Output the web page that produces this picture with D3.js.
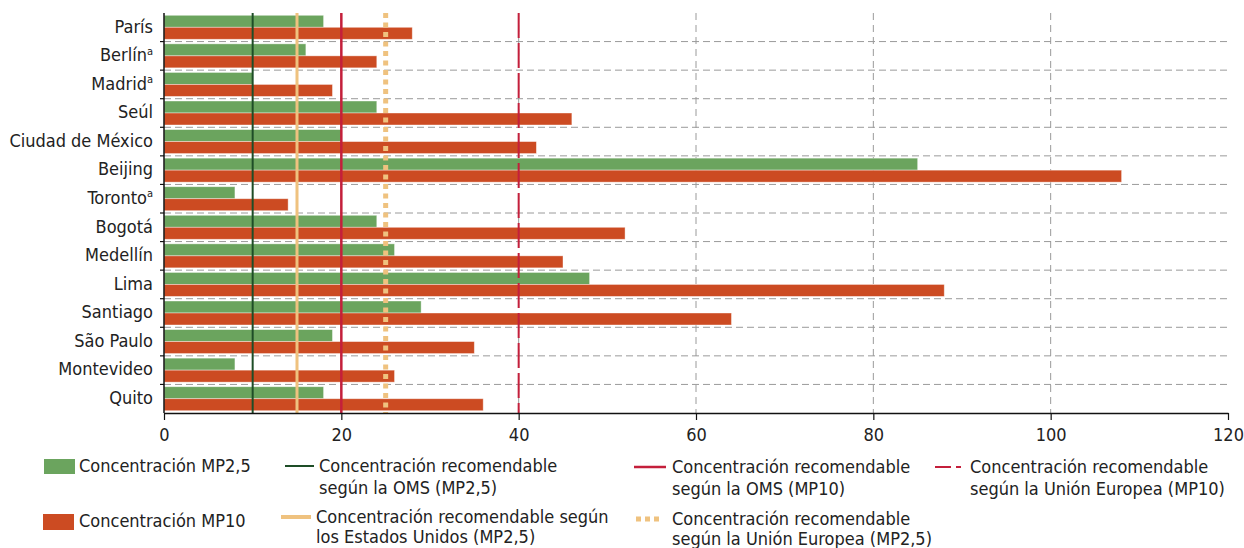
<!DOCTYPE html>
<html>
<head>
<meta charset="utf-8">
<script src="https://cdn.jsdelivr.net/npm/d3@7"></script>
<style>
  body { margin: 0; background: #fff; }
  svg text { font-family: "Liberation Sans Narrow", "DejaVu Sans Condensed", "Roboto", sans-serif; fill: #222; }
</style>
</head>
<body>
<div id="chart"></div>
<script>
// --- DATA ---
var cities = ["París", "Berlín", "Madrid", "Seúl", "Ciudad de México", "Beijing", "Toronto",
    "Bogotá", "Medellín", "Lima", "Santiago", "São Paulo", "Montevideo", "Quito"];
var noteCities = ["Berlín", "Madrid", "Toronto"];   // these get the superscript "a"
var mp25Values = [18, 16, 10, 24, 20, 85, 8, 24, 26, 48, 29, 19, 8, 18];
var mp10Values = [28, 24, 19, 46, 42, 108, 14, 52, 45, 88, 64, 35, 26, 36];
var xTicks = [0, 20, 40, 60, 80, 100, 120];
var gridTicks = [20, 40, 60, 80, 100];

// recommended levels
var refOmsMp25 = 10;
var refUsaMp25 = 15;
var refOmsMp10 = 20;
var refEuMp25 = 25;
var refEuMp10 = 40;

var margin = {top: 13, right: 16, bottom: 135, left: 164},
    width = 1244,
    height = 548,
    plotBottom = height - margin.bottom;

var colGreen = "#6ba45e",
    colOrange = "#cc4b22",
    colDarkGreen = "#1e4d27",
    colSand = "#efc27f",
    colRed = "#c41f3b",
    colGrid = "#9a9a9a";

var svg = d3.select("#chart")
    .append("svg")
    .attr("width", width)
    .attr("height", height);

// --- SCALES ---
var xScale = d3.scaleLinear()
    .domain([0, 120])
    .range([margin.left, width - margin.right]);

var yScale = d3.scaleBand()
    .domain(cities)
    .range([margin.top, plotBottom]);

var barH = 12;

// --- GRID ---
var grid = svg.append("g").attr("id", "grid");

grid.selectAll("line.hgrid")
    .data(cities.slice(1))
    .enter()
    .append("line")
    .attr("class", "hgrid")
    .attr("x1", xScale(0))
    .attr("x2", xScale(120))
    .attr("y1", d => yScale(d))
    .attr("y2", d => yScale(d))
    .attr("stroke", colGrid)
    .attr("stroke-width", 1)
    .attr("stroke-dasharray", "7,4");

grid.selectAll("line.vgrid")
    .data(gridTicks)
    .enter()
    .append("line")
    .attr("class", "vgrid")
    .attr("x1", d => xScale(d))
    .attr("x2", d => xScale(d))
    .attr("y1", margin.top)
    .attr("y2", plotBottom)
    .attr("stroke", colGrid)
    .attr("stroke-width", 1)
    .attr("stroke-dasharray", "7,5");

// --- BARS ---
var bars = svg.append("g").attr("id", "bars");

bars.selectAll("rect.mp25")
    .data(cities)
    .enter()
    .append("rect")
    .attr("class", "mp25")
    .attr("x", xScale(0))
    .attr("y", d => yScale(d) + yScale.bandwidth() / 2 - barH)
    .attr("width", (d, i) => xScale(mp25Values[i]) - xScale(0))
    .attr("height", barH)
    .attr("fill", colGreen)
    .attr("stroke", "rgba(255,255,255,0.5)")
    .attr("stroke-width", 0.8);

bars.selectAll("rect.mp10")
    .data(cities)
    .enter()
    .append("rect")
    .attr("class", "mp10")
    .attr("x", xScale(0))
    .attr("y", d => yScale(d) + yScale.bandwidth() / 2)
    .attr("width", (d, i) => xScale(mp10Values[i]) - xScale(0))
    .attr("height", barH)
    .attr("fill", colOrange)
    .attr("stroke", "rgba(255,255,255,0.5)")
    .attr("stroke-width", 0.8);

// --- REFERENCE LINES ---
var refLines = [
    {v: refOmsMp25, color: colDarkGreen, w: 2, dash: null},
    {v: refUsaMp25, color: colSand, w: 3, dash: null},
    {v: refOmsMp10, color: colRed, w: 2.5, dash: null},
    {v: refEuMp25, color: colSand, w: 5, dash: "5,4.5"},
    {v: refEuMp10, color: colRed, w: 2, dash: "25,5"}
];

svg.append("g")
    .attr("id", "ref-lines")
    .selectAll("line")
    .data(refLines)
    .enter()
    .append("line")
    .attr("x1", d => xScale(d.v))
    .attr("x2", d => xScale(d.v))
    .attr("y1", margin.top)
    .attr("y2", plotBottom)
    .attr("stroke", d => d.color)
    .attr("stroke-width", d => d.w)
    .attr("stroke-dasharray", d => d.dash);

// --- AXES ---
var xAxis = svg.append("g")
    .attr("id", "x-axis")
    .attr("transform", "translate(0," + plotBottom + ")")
    .call(d3.axisBottom(xScale).tickValues(xTicks).tickSize(7).tickSizeOuter(0));
xAxis.select(".domain").attr("stroke", "#111").attr("stroke-width", 1.5);
xAxis.selectAll(".tick line").attr("stroke", "#111").attr("stroke-width", 1.2);
xAxis.selectAll(".tick text")
    .attr("font-size", "18px")
    .attr("font-family", null)
    .attr("y", 15);

var yAxis = svg.append("g").attr("id", "y-axis");
yAxis.append("line")
    .attr("x1", xScale(0)).attr("x2", xScale(0))
    .attr("y1", margin.top).attr("y2", plotBottom)
    .attr("stroke", "#111")
    .attr("stroke-width", 1.5);
yAxis.selectAll("line.ytick")
    .data(cities.slice(1))
    .enter()
    .append("line")
    .attr("class", "ytick")
    .attr("x1", xScale(0) - 4).attr("x2", xScale(0))
    .attr("y1", d => yScale(d)).attr("y2", d => yScale(d))
    .attr("stroke", "#111")
    .attr("stroke-width", 1.2);

var cityLabels = yAxis.selectAll("text")
    .data(cities)
    .enter()
    .append("text")
    .attr("x", xScale(0) - 11)
    .attr("y", d => yScale(d) + yScale.bandwidth() / 2 - 1)
    .attr("dy", "0.35em")
    .attr("text-anchor", "end")
    .attr("font-size", "18px");
cityLabels.append("tspan").text(d => d);
cityLabels.filter(d => noteCities.indexOf(d) >= 0)
    .append("tspan")
    .attr("font-size", "11px")
    .attr("dy", "-0.6em")
    .text("a");

// --- LEGEND ---
var legend = svg.append("g").attr("id", "legend").attr("font-size", "18px");

function legendText(x, y, lines, gap) {
    var t = legend.append("text")
        .attr("x", x)
        .attr("y", y);
    lines.forEach(function(s, i) {
        t.append("tspan").attr("x", x).attr("dy", i == 0 ? "0.35em" : gap + "px").text(s);
    });
}

legend.append("rect").attr("x", 44).attr("y", 459).attr("width", 31).attr("height", 15).attr("fill", colGreen);
legendText(79, 466, ["Concentración MP2,5"], 22);

legend.append("rect").attr("x", 43).attr("y", 514).attr("width", 31).attr("height", 16).attr("fill", colOrange);
legendText(79, 521, ["Concentración MP10"], 20);

legend.append("line").attr("x1", 285).attr("x2", 314).attr("y1", 466).attr("y2", 466)
    .attr("stroke", colDarkGreen).attr("stroke-width", 2);
legendText(319, 466, ["Concentración recomendable", "según la OMS (MP2,5)"], 22);

legend.append("line").attr("x1", 281).attr("x2", 311).attr("y1", 517).attr("y2", 517)
    .attr("stroke", colSand).attr("stroke-width", 4);
legendText(316, 517, ["Concentración recomendable según", "los Estados Unidos (MP2,5)"], 20);

legend.append("line").attr("x1", 634).attr("x2", 666).attr("y1", 467).attr("y2", 467)
    .attr("stroke", colRed).attr("stroke-width", 2.5);
legendText(672, 467, ["Concentración recomendable", "según la OMS (MP10)"], 22);

legend.append("line").attr("x1", 636).attr("x2", 663).attr("y1", 519).attr("y2", 519)
    .attr("stroke", colSand).attr("stroke-width", 5).attr("stroke-dasharray", "5,4");
legendText(672, 519, ["Concentración recomendable", "según la Unión Europea (MP2,5)"], 20);

legend.append("line").attr("x1", 935).attr("x2", 961).attr("y1", 467).attr("y2", 467)
    .attr("stroke", colRed).attr("stroke-width", 2).attr("stroke-dasharray", "16,5");
legendText(970, 467, ["Concentración recomendable", "según la Unión Europea (MP10)"], 22);
</script>
</body>
</html>
